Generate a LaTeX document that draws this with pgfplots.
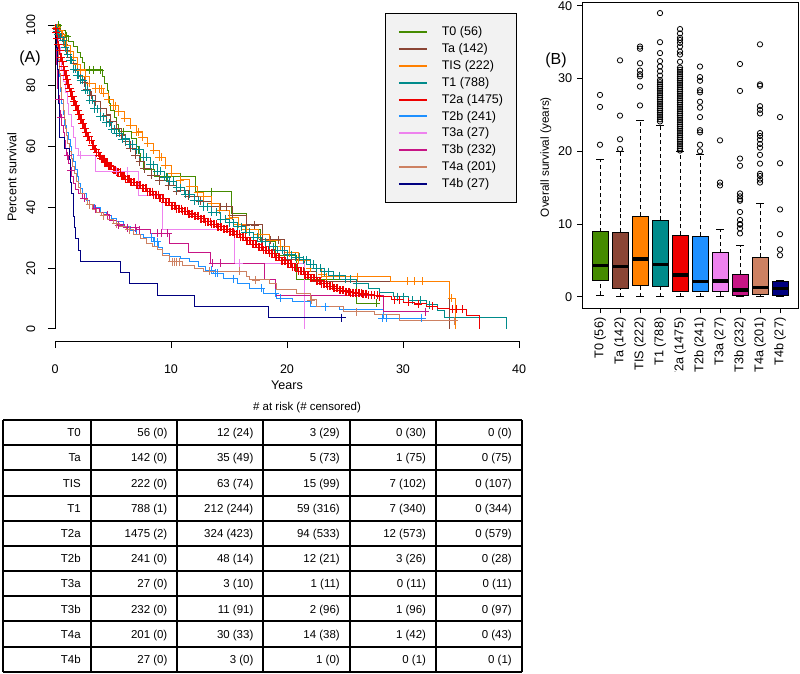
\documentclass[border=0pt]{standalone}
\usepackage{fontspec}
\setmainfont{Liberation Sans}
\usepackage{pgfplots}
\pgfplotsset{compat=1.18}
\usepgfplotslibrary{statistics}

\definecolor{cT0}{HTML}{458B00}
\definecolor{cTa}{HTML}{8B4535}
\definecolor{cTIS}{HTML}{FF8000}
\definecolor{cT1}{HTML}{008B8B}
\definecolor{cT2a}{HTML}{EE0000}
\definecolor{cT2b}{HTML}{1E90FF}
\definecolor{cT3a}{HTML}{EE82EE}
\definecolor{cT3b}{HTML}{C71585}
\definecolor{cT4a}{HTML}{CD8162}
\definecolor{cT4b}{HTML}{000080}

\pgfplotsset{
  km/.style={const plot, line width=0.75pt, color=#1, mark=none},
  kmm/.style={const plot, line width=0.75pt, color=#1, mark=+, mark size=3pt, mark options={line width=0.6pt}},
  cens/.style={only marks, color=#1, mark=+, mark size=3pt, mark options={line width=0.6pt}, forget plot},
  boxplot/every median/.style={line width=2.4pt},
  boxplot/draw/lower whisker/.code={%
    \draw[dash pattern=on 3pt off 2.2pt] (boxplot box cs:\pgfplotsboxplotvalue{lower whisker},0.5) -- (boxplot box cs:\pgfplotsboxplotvalue{lower quartile},0.5);
    \draw (boxplot whisker cs:\pgfplotsboxplotvalue{lower whisker},0) -- (boxplot whisker cs:\pgfplotsboxplotvalue{lower whisker},1);
  },
  boxplot/draw/upper whisker/.code={%
    \draw[dash pattern=on 3pt off 2.2pt] (boxplot box cs:\pgfplotsboxplotvalue{upper quartile},0.5) -- (boxplot box cs:\pgfplotsboxplotvalue{upper whisker},0.5);
    \draw (boxplot whisker cs:\pgfplotsboxplotvalue{upper whisker},0) -- (boxplot whisker cs:\pgfplotsboxplotvalue{upper whisker},1);
  },
}

\begin{document}
\begin{tikzpicture}
\path[use as bounding box] (0pt,0pt) rectangle (600pt,-505.5pt);

% ---------------- Panel A ----------------
\begin{axis}[
  at={(41.25pt,-255.75pt)}, anchor=south west,
  scale only axis, width=348pt, height=241.56pt,
  xmin=0, xmax=40, ymin=-4, ymax=102,
  axis x line*=bottom, axis y line*=left,
  axis line style={draw=none},
  xtick={0,10,20,30,40}, ytick={0,20,40,60,80,100},
  tick align=outside, major tick length=5.25pt,
  tick style={line width=0.6pt, black},
  /pgf/number format/assume math mode=true,
  tick label style={font=\fontsize{9.4}{11}\selectfont},
  yticklabel style={rotate=90, anchor=south},
  xticklabel shift=9pt, yticklabel shift=6pt,
  xlabel={Years}, ylabel={Percent survival},
  label style={font=\fontsize{9.4}{11}\selectfont},
  xlabel style={at={(axis description cs:0.5,-0.137)}, anchor=center},
  ylabel style={at={(axis description cs:-0.093,0.509)}, anchor=center},
  legend style={at={(axis description cs:0.711,1.018)}, anchor=north west, fill=black!5, draw=black,
    font=\fontsize{9.4}{11}\selectfont, inner xsep=9.5pt, inner ysep=9.6pt, row sep=4.4pt,
    column sep=10.5pt, nodes={inner sep=0pt}},
  legend cell align=left,
  legend image code/.code={\draw[#1, line width=1.5pt] (0pt,0pt) -- (21pt,0pt);},
]
% T0
\addplot[km=cT0] coordinates {(0,100) (0.5,98.2) (0.9,96.4) (1.2,94.6) (1.6,92.9) (1.9,91.1) (2.2,89.3) (2.4,87.5) (2.5,85.2) (4.1,83.2) (4.3,80.9) (4.5,78.6) (4.6,76.4) (4.7,74.1) (4.8,71.8) (5.1,69.5) (5.3,67.2) (5.5,64.9) (6.6,62.6) (7.0,60.1) (7.2,57.6) (7.4,55.1) (7.6,52.6) (8.6,50.1) (12.1,45.2) (15.2,37.9) (16.5,32.6) (17.7,28.7) (19.0,24.3) (20.8,16.1) (26.0,8.4) (28.0,8.4)};
\addlegendentry{T0 (56)}
\addplot[cens=cT0] coordinates {(0.3,100) (1.0,96.4) (3.0,85.2) (3.3,85.2) (3.9,85.2) (5.9,64.9) (9.6,50.1) (10.8,50.1) (13.5,45.2) (27.7,8.4)};
% Ta
\addplot[km=cTa, forget plot] coordinates {(0,100) (0.2,98.6)};
\addplot[kmm=cTa] coordinates {(0.2,98.6) (0.4,97.2) (0.6,95.8) (0.8,93.7) (1.0,91.5) (1.3,89.4) (1.6,87.3) (1.9,85.2) (2.2,83.1) (2.5,81.0) (2.8,78.9) (3.1,76.8) (3.5,74.7) (3.9,72.6) (4.4,70.4) (4.8,68.2) (5.3,66.0) (5.7,63.8) (6.1,61.6) (6.5,59.4) (6.9,57.2) (7.3,55.0) (7.7,52.7) (8.3,50.5) (9.0,48.8) (9.8,47.1) (10.5,45.4) (11.5,43.7) (12.5,42.0) (13.5,40.2) (15.3,37.3) (16.5,34.2) (17.9,29.3) (19.8,22.7) (21.5,18.8) (22.5,15.6)};
\addlegendentry{Ta (142)}
\addplot[km=cTa, forget plot] coordinates {(22.5,15.6) (34.0,0)};
\addplot[cens=cTa] coordinates {(14.3,40.2) (14.8,40.2) (17.2,34.2) (18.6,29.3) (19.3,29.3)};
% TIS
\addplot[km=cTIS, forget plot] coordinates {(0,100) (0.2,99.1)};
\addplot[kmm=cTIS] coordinates {(0.2,99.1) (0.4,98.2) (0.6,96.8) (0.8,95.0) (1.0,93.2) (1.3,91.4) (1.6,89.2) (1.9,87.0) (2.2,85.2) (2.6,83.0) (3.0,80.8) (3.5,79.0) (4.2,77.5) (4.6,75.5) (5.0,73.5) (5.5,71.5) (6.0,69.3) (6.5,67.0) (7.0,64.8) (7.5,63.0) (8.0,61.0) (8.5,58.8) (9.0,56.5) (9.5,53.8) (10.0,51.2) (10.8,49.0) (11.6,46.8) (12.3,45.0) (12.8,43.5) (13.5,41.3) (14.2,39.1) (15.0,36.5) (15.8,34.5) (16.5,32.6) (17.5,31.0) (18.5,29.0) (19.4,27.1) (20.2,25.0) (21.0,22.5) (22.0,20.0) (23.0,18.0) (23.4,17.2)};
\addlegendentry{TIS (222)}
\addplot[km=cTIS, forget plot] coordinates {(23.4,17.2) (28.9,15.6) (34.0,10.1) (34.5,0)};
\addplot[cens=cTIS] coordinates {(3.8,79.0) (4.0,79.0) (5.2,73.5) (7.2,64.8) (9.2,56.5) (26.1,17.2) (30.4,15.6) (31.0,15.6) (31.7,15.6) (34.2,10.1)};
% T1
\addplot[km=cT1, forget plot] coordinates {(0,100) (0.1,99)};
\addplot[kmm=cT1] coordinates {(0.1,99) (0.2,98) (0.3,97) (0.5,96) (0.7,95) (0.9,92.5) (1.1,90.3) (1.3,88.5) (1.6,85.5) (1.9,83.5) (2.2,81.9) (2.6,78.5) (3.0,75.3) (3.4,72.5) (3.9,69.8) (4.4,67.8) (4.9,65.8) (5.3,64.3) (5.8,62.5) (6.4,60.7) (7.0,58.9) (7.6,56.5) (8.2,54.0) (8.8,51.8) (9.4,50.0) (9.9,48.5) (10.5,46.5) (11.2,44.3) (12.0,42.2) (12.8,40.2) (13.5,38.3) (14.3,36.1) (15.0,35.0) (15.7,33.6) (16.4,31.8) (17.1,30.2) (17.8,28.7) (18.5,27.1) (19.2,25.8) (20.0,24.4) (20.7,23.5) (21.4,22.7) (22.0,21.3) (22.5,20.0) (23.2,18.8) (24.0,17.5) (25.0,16.3) (26.0,15.0)};
\addlegendentry{T1 (788)}
\addplot[km=cT1, forget plot] coordinates {(26.0,15.0) (27.0,13.2) (28.0,12.0) (29.2,10.6) (30.5,9.4) (32.0,7.9) (33.0,6.0) (33.6,3.8) (38.9,0)};
\addplot[cens=cT1] coordinates {(1.45,88.5) (1.75,85.5) (2.05,83.5) (2.4,81.9) (2.8,78.5) (3.2,75.3) (3.65,72.5) (4.15,69.8) (4.65,67.8) (5.1,65.8) (5.55,64.3) (6.1,62.5) (6.7,60.7) (7.3,58.9) (7.9,56.5) (8.5,54.0) (9.1,51.8) (9.65,50.0) (10.2,48.5) (10.85,46.5) (11.6,44.3) (12.4,42.2) (13.15,40.2) (13.9,38.3) (14.65,36.1) (15.35,35.0) (16.05,33.6) (16.75,31.8) (17.45,30.2) (18.15,28.7) (18.85,27.1) (19.6,25.8) (20.35,24.4) (21.05,23.5) (21.7,22.7) (22.25,21.3) (22.85,20.0) (23.6,18.8) (24.5,17.5) (25.5,16.3) (29.5,10.6) (30.0,10.6) (30.8,9.4) (31.5,9.4) (32.3,7.9)};
% T2a
\addplot[km=cT2a, forget plot] coordinates {(0,100) (0.05,99)};
\addplot[kmm=cT2a] coordinates {(0.05,99) (0.1,97.5) (0.2,95.5) (0.3,93.5) (0.4,91.5) (0.5,89.5) (0.6,88) (0.7,86.5) (0.8,85) (0.9,83.5) (1.0,82) (1.1,80.5) (1.2,79.2) (1.3,78) (1.45,76.5) (1.6,75) (1.75,73.5) (1.9,72) (2.05,70.5) (2.2,69) (2.35,67.5) (2.5,66) (2.65,64.7) (2.8,63.3) (3.0,62) (3.2,60.5) (3.4,59.2) (3.6,58) (3.8,57) (4.0,56) (4.3,54.8) (4.6,53.6) (5.0,52.4) (5.3,51.5) (5.7,50.3) (6.1,49.2) (6.5,48.2) (7.0,47.2) (7.5,46.2) (8.0,45.2) (8.5,44.2) (9.0,43.0) (9.5,41.7) (10.0,40.5) (10.5,39.6) (11.0,38.7) (11.5,37.8) (12.0,37.0) (12.5,36.2) (13.0,35.3) (13.5,34.5) (14.0,33.6) (14.5,32.8) (15.0,32.0) (15.5,31.2) (16.0,30.2) (16.5,29.0) (17.0,27.8) (17.5,26.8) (18.0,25.8) (18.5,24.8) (19.0,23.6) (19.5,22.4) (20.0,21.4) (20.5,20.2) (21.0,19.0) (21.5,17.8) (22.0,16.8) (22.5,15.8) (23.0,14.8) (23.5,14.0) (24.0,13.3) (24.5,12.7) (25.0,12.2) (25.5,11.9) (26.0,11.7) (26.5,11.5) (27.0,11.2) (27.5,11.0) (28.0,10.6)};
\addlegendentry{T2a (1475)}
\addplot[km=cT2a, forget plot] coordinates {(28.0,10.6) (29.0,9.6) (30.0,8.8) (31.0,8.2) (32.0,7.4) (33.0,6.8) (34.0,6.4) (35.5,4.4) (36.6,0)};
\addplot[cens=cT2a] coordinates {(0.55,89.5) (0.65,88) (0.75,86.5) (0.85,85) (0.95,83.5) (1.05,82) (1.15,80.5) (1.25,79.2) (1.38,78) (1.52,76.5) (1.68,75) (1.82,73.5) (1.98,72) (2.12,70.5) (2.28,69) (2.42,67.5) (2.58,66) (2.72,64.7) (2.9,63.3) (3.1,62) (3.3,60.5) (3.5,59.2) (3.7,58) (3.9,57) (4.15,56) (4.45,54.8) (4.8,53.6) (5.15,52.4) (5.5,51.5) (5.9,50.3) (6.3,49.2) (6.75,48.2) (7.25,47.2) (7.75,46.2) (8.25,45.2) (8.75,44.2) (9.25,43.0) (9.75,41.7) (10.25,40.5) (10.75,39.6) (11.25,38.7) (11.75,37.8) (12.25,37.0) (12.75,36.2) (13.25,35.3) (13.75,34.5) (14.25,33.6) (14.75,32.8) (15.25,32.0) (15.75,31.2) (16.25,30.2) (16.75,29.0) (17.25,27.8) (17.75,26.8) (18.25,25.8) (18.75,24.8) (19.25,23.6) (19.75,22.4) (20.25,21.4) (20.75,20.2) (21.25,19.0) (21.75,17.8) (22.25,16.8) (22.75,15.8) (23.25,14.8) (23.75,14.0) (24.25,13.3) (24.75,12.7) (25.25,12.2) (25.75,11.9) (26.25,11.7) (26.75,11.5) (27.25,11.2) (27.75,11.0) (29.3,9.6) (29.7,9.6) (30.5,8.8) (31.3,8.2) (32.5,7.4) (34.3,6.4) (34.6,6.4) (35.1,6.4)};
\addplot[cens=cT2a] coordinates {(4.08,56) (4.23,56) (4.38,54.8) (4.53,54.8) (4.7,53.6) (4.9,53.6) (5.08,52.4) (5.23,52.4) (5.4,51.5) (5.6,51.5) (5.8,50.3) (6.0,50.3) (6.2,49.2) (6.4,49.2) (6.62,48.2) (6.88,48.2) (7.12,47.2) (7.38,47.2) (7.62,46.2) (7.88,46.2) (8.12,45.2) (8.38,45.2) (8.62,44.2) (8.88,44.2) (9.12,43.0) (9.38,43.0) (9.62,41.7) (9.88,41.7) (10.12,40.5) (10.38,40.5) (10.62,39.6) (10.88,39.6) (11.12,38.7) (11.38,38.7) (11.62,37.8) (11.88,37.8) (12.12,37.0) (12.38,37.0) (12.62,36.2) (12.88,36.2) (13.12,35.3) (13.38,35.3) (13.62,34.5) (13.88,34.5) (14.12,33.6) (14.38,33.6) (14.62,32.8) (14.88,32.8) (15.12,32.0) (15.38,32.0) (15.62,31.2) (15.88,31.2) (16.12,30.2) (16.38,30.2) (16.62,29.0) (16.88,29.0) (17.12,27.8) (17.38,27.8) (17.62,26.8) (17.88,26.8) (18.12,25.8) (18.38,25.8) (18.62,24.8) (18.88,24.8) (19.12,23.6) (19.38,23.6) (19.62,22.4) (19.88,22.4) (20.12,21.4) (20.38,21.4) (20.62,20.2) (20.88,20.2) (21.12,19.0) (21.38,19.0) (21.62,17.8) (21.88,17.8) (22.12,16.8) (22.38,16.8) (22.62,15.8) (22.88,15.8) (23.12,14.8) (23.38,14.8) (23.62,14.0) (23.88,14.0) (24.12,13.3) (24.38,13.3) (24.62,12.7) (24.88,12.7) (25.12,12.2) (25.38,12.2) (25.62,11.9) (25.88,11.9) (26.12,11.7) (26.38,11.7) (26.62,11.5) (26.88,11.5)};
% T2b
\addplot[km=cT2b] coordinates {(0,100) (0.1,97) (0.2,93) (0.3,88) (0.4,83) (0.5,78) (0.6,74) (0.7,70.5) (0.85,67) (1.0,64.5) (1.15,62.2) (1.3,60) (1.45,57.5) (1.6,55) (1.75,52.3) (1.9,50) (2.05,48) (2.2,46.3) (2.4,44.5) (2.7,42.4) (3.0,41) (3.4,39.8) (3.9,38.4) (4.4,37.2) (4.9,36.2) (5.3,35.3) (5.9,33.8) (6.5,32.3) (7.0,30.9) (7.6,30.1) (8.5,28.7) (8.9,26.8) (9.3,24.9) (9.9,23.8) (10.8,23.0) (11.6,22.1) (12.4,20.6) (13.0,19.3) (13.65,18.3) (14.5,16.5) (15.7,15.0) (16.8,13.3) (18.0,11.7) (19.1,10.1) (20.5,9.0) (22.0,7.3) (24.5,6.4) (28.3,3.5) (31.7,3.5)};
\addlegendentry{T2b (241)}
\addplot[cens=cT2b] coordinates {(8.3,30.1) (8.6,28.7) (8.8,28.7) (13.5,19.3) (13.8,18.3) (14.0,18.3) (15.4,16.5) (17.8,13.3) (19.0,11.7) (19.4,10.1) (23.3,7.3) (28.2,3.5) (28.6,3.5) (31.6,3.5)};
% T3a
\addplot[km=cT3a] coordinates {(0,100) (0.15,96.3) (0.3,92.6) (0.45,88.9) (0.6,85.2) (0.75,81.5) (0.9,77.8) (1.05,74.1) (1.2,70.4) (1.4,66.7) (1.6,63.0) (1.8,59.3) (2.0,57.2) (3.45,51.8) (7.2,44.0) (9.3,32.6) (15.5,21.6) (21.55,0)};
\addlegendentry{T3a (27)}
\addplot[cens=cT3a] coordinates {(2.2,57.2) (5.3,51.8) (6.2,51.8) (15.9,21.6)};
% T3b
\addplot[km=cT3b] coordinates {(0,100) (0.05,95) (0.1,91) (0.15,87) (0.2,83) (0.25,79) (0.3,75.5) (0.4,72) (0.5,69.5) (0.6,67) (0.7,64.5) (0.8,62) (0.9,59.5) (1.0,57) (1.15,54.5) (1.3,52) (1.45,50) (1.6,48) (1.8,46) (2.0,44.5) (2.4,43.0) (2.8,41.0) (3.3,39.6) (3.8,38.4) (4.2,37.5) (4.7,35.8) (5.3,34.2) (6.0,33.3) (7.0,32.6) (8.2,31.5) (9.9,28.2) (11.55,25.1) (13.4,21.6) (18.1,16.1) (19.0,11.0) (28.3,5.7) (31.9,5.7)};
\addlegendentry{T3b (232)}
\addplot[cens=cT3b] coordinates {(0.35,75.5) (0.55,69.5) (1.1,57) (1.4,52) (2.5,43) (3.0,41) (3.5,39.6) (4.5,37.5) (5.5,34.2) (6.2,33.3) (6.9,33.3) (7.3,32.6) (8.8,31.5) (9.2,31.5) (9.7,31.5) (13.6,21.6) (14.3,21.6) (31.9,5.7)};
% T4a
\addplot[km=cT4a] coordinates {(0,100) (0.1,97) (0.2,93) (0.3,88.5) (0.4,84) (0.5,79.5) (0.6,75.5) (0.7,72) (0.8,69) (0.9,66) (1.0,63.5) (1.1,61) (1.25,58.5) (1.4,56) (1.55,53.5) (1.7,51) (1.85,48.5) (2.0,46.5) (2.2,44.5) (2.5,42.5) (2.8,40.8) (3.2,39.3) (3.6,38.2) (4.0,37.2) (4.5,35.9) (5.0,34.6) (5.6,33.6) (6.2,32.6) (6.8,31.0) (7.4,29.6) (7.9,28.2) (8.4,27.1) (8.8,26.0) (9.3,24.3) (9.9,22.1) (11.0,21.0) (12.0,19.8) (12.8,18.9) (16.5,17.2) (16.8,16.1) (18.5,15.0) (19.1,12.8) (20.8,11.7) (22.0,9.5) (22.5,7.5) (24.9,5.6) (27.5,4.8) (29.7,2.7) (34.6,2.7)};
\addlegendentry{T4a (201)}
\addplot[cens=cT4a] coordinates {(3.0,40.8) (4.2,37.2) (5.3,34.6) (6.4,32.6) (10.1,22.1) (10.3,22.1) (10.5,22.1) (10.7,22.1) (13.3,18.9) (15.9,18.9) (17.3,16.1) (22.1,9.5) (26.0,5.6) (34.4,2.7)};
% T4b
\addplot[km=cT4b] coordinates {(0,100) (0.05,96.3) (0.1,92.6) (0.2,88.9) (0.25,85.2) (0.28,81.5) (0.3,77.8) (0.32,74.1) (0.35,70.4) (0.38,66.7) (0.43,63.0) (0.86,59.3) (1.29,55.6) (1.33,51.9) (1.37,48.1) (1.45,44.4) (1.58,37.0) (1.65,33.3) (1.78,29.6) (2.0,25.9) (2.24,22.2) (5.66,18.5) (6.38,14.8) (8.8,11.1) (12.0,7.4) (18.4,3.7) (25.1,3.7)};
\addlegendentry{T4b (27)}
\addplot[cens=cT4b] coordinates {(24.7,3.7)};
% axis lines (R style, detached)
\draw[line width=0.6pt] (axis cs:0,0) -- (axis cs:0,100);
\draw[line width=0.6pt] (axis cs:0,-4) -- (axis cs:40,-4);
\end{axis}
\node[font=\fontsize{12}{14}\selectfont] at (22.5pt,-43.5pt) {(A)};

% ---------------- Panel B ----------------
\node[font=\fontsize{12}{14}\selectfont] at (417pt,-45pt) {(B)};
\begin{scope}
\clip (400pt,1pt) rectangle (601pt,-278.25pt);
\begin{axis}[
  at={(436.5pt,-231pt)}, anchor=south west,
  scale only axis, width=162pt, height=229.1pt,
  xmin=0.1, xmax=10.9, ymin=-1.55, ymax=40.45,
  xtick={1,2,3,4,5,6,7,8,9,10},
  xticklabels={T0 (56),Ta (142),TIS (222),T1 (788),T2a (1475),T2b (241),T3a (27),T3b (232),T4a (201),T4b (27)},
  ytick={0,10,20,30,40},
  tick pos=left, tick align=outside, major tick length=3.75pt,
  tick style={line width=0.6pt, black},
  axis line style={line width=0.6pt},
  /pgf/number format/assume math mode=true,
  tick label style={font=\fontsize{9.5}{11}\selectfont},
  xticklabel style={rotate=90, anchor=east},
  ylabel={Overall survival (years)},
  ylabel style={font=\fontsize{8.8}{10}\selectfont, at={(axis description cs:-0.167,0.494)}, anchor=center},
  boxplot/draw direction=y,
  boxplot/box extend=0.8, boxplot/whisker extend=0.4,
]
\addplot[draw=black, line width=0.6pt, mark=o, mark size=2pt, boxplot prepared={draw position=1, lower whisker=0.2, lower quartile=2.29, median=4.27, upper quartile=8.94, upper whisker=18.9, every box/.style={draw=black, fill=cT0}}]
  table[row sep=\\, y index=0] {data\\ 27.75\\ 26.1\\ 20.9\\};
\addplot[draw=black, line width=0.6pt, mark=o, mark size=2pt, boxplot prepared={draw position=2, lower whisker=0, lower quartile=1.15, median=4.13, upper quartile=8.85, upper whisker=20.0, every box/.style={draw=black, fill=cTa}}]
  table[row sep=\\, y index=0] {data\\ 32.5\\ 24.9\\ 21.65\\ 20.3\\};
\addplot[draw=black, line width=0.6pt, mark=o, mark size=2pt, boxplot prepared={draw position=3, lower whisker=0, lower quartile=1.56, median=5.18, upper quartile=11.1, upper whisker=24.3, every box/.style={draw=black, fill=cTIS}}]
  table[row sep=\\, y index=0] {data\\ 34.4\\ 34.1\\ 32.1\\ 31.1\\ 30.6\\ 30.3\\ 28.9\\ 26.3\\};
\addplot[draw=black, line width=0.6pt, mark=o, mark size=2pt, boxplot prepared={draw position=4, lower whisker=0, lower quartile=1.47, median=4.45, upper quartile=10.5, upper whisker=23.6, every box/.style={draw=black, fill=cT1}}]
  table[row sep=\\, y index=0] {data\\ 39.0\\ 35.0\\ 33.5\\ 32.4\\ 31.65\\ 31.0\\ 30.4\\ 29.8\\ 29.5\\ 29.2\\ 28.9\\ 28.6\\ 28.3\\ 28.0\\ 27.7\\ 27.4\\ 27.1\\ 26.8\\ 26.5\\ 26.2\\ 25.9\\ 25.6\\ 25.3\\ 25.0\\ 24.7\\ 24.4\\ 24.1\\};
\addplot[draw=black, line width=0.6pt, mark=o, mark size=2pt, boxplot prepared={draw position=5, lower whisker=0, lower quartile=0.73, median=2.98, upper quartile=8.44, upper whisker=20.0, every box/.style={draw=black, fill=cT2a}}]
  table[row sep=\\, y index=0] {data\\ 36.8\\ 36.2\\ 35.6\\ 35.3\\ 34.9\\ 34.4\\ 33.7\\ 33.3\\ 32.3\\ 31.5\\ 31.2\\ 30.9\\ 30.6\\ 30.3\\ 30.0\\ 29.7\\ 29.4\\ 29.1\\ 28.8\\ 28.5\\ 28.2\\ 27.9\\ 27.6\\ 27.3\\ 27.0\\ 26.7\\ 26.4\\ 26.1\\ 25.8\\ 25.5\\ 25.2\\ 24.9\\ 24.6\\ 24.3\\ 24.0\\ 23.7\\ 23.4\\ 23.1\\ 22.8\\ 22.5\\ 22.2\\ 21.9\\ 21.6\\ 21.3\\ 21.0\\ 20.7\\ 20.4\\ 20.1\\};
\addplot[draw=black, line width=0.6pt, mark=o, mark size=2pt, boxplot prepared={draw position=6, lower whisker=0, lower quartile=0.69, median=2.06, upper quartile=8.35, upper whisker=19.6, every box/.style={draw=black, fill=cT2b}}]
  table[row sep=\\, y index=0] {data\\ 31.65\\ 30.2\\ 29.7\\ 28.4\\ 28.1\\ 26.8\\ 26.0\\ 24.7\\ 22.9\\ 22.6\\ 20.9\\ 20.0\\};
\addplot[draw=black, line width=0.6pt, mark=o, mark size=2pt, boxplot prepared={draw position=7, lower whisker=0.1, lower quartile=0.78, median=2.16, upper quartile=6.06, upper whisker=9.27, every box/.style={draw=black, fill=cT3a}}]
  table[row sep=\\, y index=0] {data\\ 21.5\\ 15.7\\ 15.3\\};
\addplot[draw=black, line width=0.6pt, mark=o, mark size=2pt, boxplot prepared={draw position=8, lower whisker=0, lower quartile=0.14, median=0.92, upper quartile=3.12, upper whisker=7.0, every box/.style={draw=black, fill=cT3b}}]
  table[row sep=\\, y index=0] {data\\ 32.0\\ 28.3\\ 19.0\\ 18.0\\ 14.2\\ 13.8\\ 13.4\\ 13.2\\ 11.65\\ 10.55\\ 10.0\\ 9.9\\ 9.4\\ 8.7\\};
\addplot[draw=black, line width=0.6pt, mark=o, mark size=2pt, boxplot prepared={draw position=9, lower whisker=0, lower quartile=0.37, median=1.28, upper quartile=5.46, upper whisker=12.9, every box/.style={draw=black, fill=cT4a}}]
  table[row sep=\\, y index=0] {data\\ 34.7\\ 29.2\\ 29.0\\ 26.2\\ 25.7\\ 25.2\\ 22.5\\ 22.1\\ 21.6\\ 21.0\\ 20.5\\ 19.5\\ 18.3\\ 16.9\\ 16.6\\ 16.1\\ 15.7\\};
\addplot[draw=black, line width=0.6pt, mark=o, mark size=2pt, boxplot prepared={draw position=10, lower whisker=0.1, lower quartile=0.23, median=1.1, upper quartile=2.06, upper whisker=2.2, every box/.style={draw=black, fill=cT4b}}]
  table[row sep=\\, y index=0] {data\\ 24.7\\ 18.35\\ 12.0\\ 8.6\\ 6.5\\ 5.7\\};
\end{axis}
\end{scope}

% ---------------- Table ----------------
\begin{scope}[font=\fontsize{8.6}{10}\selectfont]
\node at (230.25pt,-306pt) {\# at risk (\# censored)};
\foreach \yy in {-315,-333.75,-352.5,-372,-390.75,-409.5,-428.25,-447,-465.75,-485.25,-504}
  \draw[line width=1.5pt] (2.25pt,\yy pt) -- (391.5pt,\yy pt);
\foreach \xx in {2.25,68.25,132.75,197.25,262.5,327,391.5}
  \draw[line width=1.5pt] (\xx pt,-315pt) -- (\xx pt,-504pt);
\foreach \r/\a/\b/\c/\d/\e/\f in {
  1/T0/56 (0)/12 (24)/3 (29)/0 (30)/0 (0),
  2/Ta/142 (0)/35 (49)/5 (73)/1 (75)/0 (75),
  3/TIS/222 (0)/63 (74)/15 (99)/7 (102)/0 (107),
  4/T1/788 (1)/212 (244)/59 (316)/7 (340)/0 (344),
  5/T2a/1475 (2)/324 (423)/94 (533)/12 (573)/0 (579),
  6/T2b/241 (0)/48 (14)/12 (21)/3 (26)/0 (28),
  7/T3a/27 (0)/3 (10)/1 (11)/0 (11)/0 (11),
  8/T3b/232 (0)/11 (91)/2 (96)/1 (96)/0 (97),
  9/T4a/201 (0)/30 (33)/14 (38)/1 (42)/0 (43),
  10/T4b/27 (0)/3 (0)/1 (0)/0 (1)/0 (1)} {
  \pgfmathsetmacro\yb{-315-18.9*(\r-0.5)-3.1}
  \node[anchor=base east, inner sep=0pt] at (60.7pt,\yb pt) {\a};
  \node[anchor=base east, inner sep=0pt] at (125.7pt,\yb pt) {\b};
  \node[anchor=base east, inner sep=0pt] at (190.2pt,\yb pt) {\c};
  \node[anchor=base east, inner sep=0pt] at (255pt,\yb pt) {\d};
  \node[anchor=base east, inner sep=0pt] at (319.7pt,\yb pt) {\e};
  \node[anchor=base east, inner sep=0pt] at (384pt,\yb pt) {\f};
}
\end{scope}
\end{tikzpicture}
\end{document}
